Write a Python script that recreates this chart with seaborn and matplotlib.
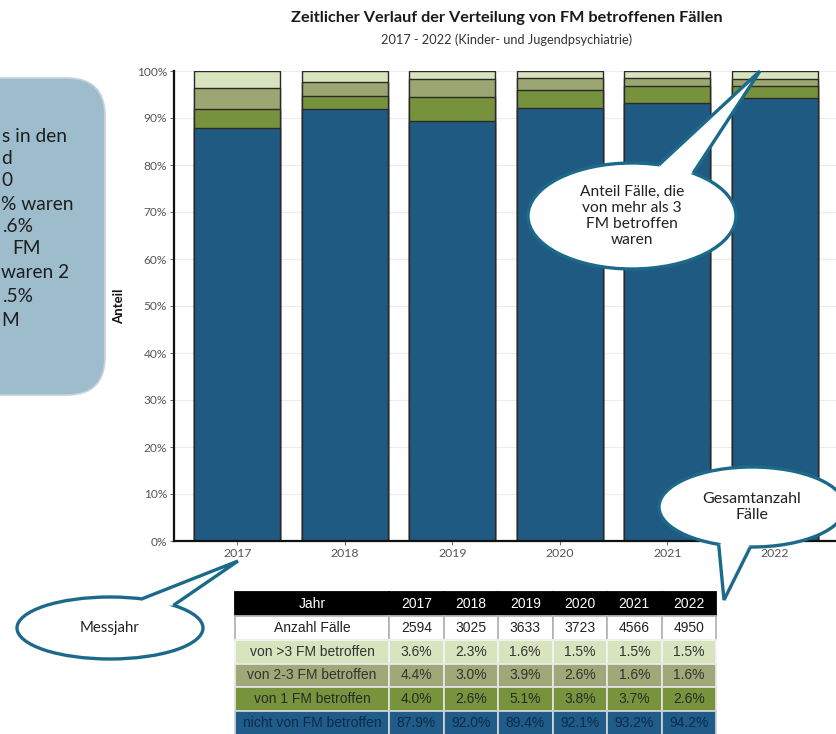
import numpy as np
import pandas as pd
import seaborn as sns
import matplotlib
matplotlib.use("Agg")
import matplotlib.pyplot as plt
from matplotlib.patches import Ellipse, Polygon, FancyBboxPatch

# ---------------- data ----------------
years = ["2017", "2018", "2019", "2020", "2021", "2022"]
n_cases = [2594, 3025, 3633, 3723, 4566, 4950]
p_gt3 = [3.6, 2.3, 1.6, 1.5, 1.5, 1.5]
p_2to3 = [4.4, 3.0, 3.9, 2.6, 1.6, 1.6]
p_1 = [4.0, 2.6, 5.1, 3.8, 3.7, 2.6]
p_none = [87.9, 92.0, 89.4, 92.1, 93.2, 94.2]
row_labels = ["von >3 FM betroffen", "von 2-3 FM betroffen",
              "von 1 FM betroffen", "nicht von FM betroffen"]
yticks = [0, 10, 20, 30, 40, 50, 60, 70, 80, 90, 100]

C_BLUE = "#1F5A82"
C_GREEN = "#76923C"
C_OLIVE = "#9CA672"
C_LIGHT = "#D7E4BD"
TEAL = "#1C6A8A"

sns.set_theme(style="whitegrid")
plt.rcParams["font.family"] = ["Lato", "DejaVu Sans"]

W, H = 837, 734
fig = plt.figure(figsize=(W / 100, H / 100), dpi=100)

# ---------------- main bar chart ----------------
ax = fig.add_axes([174 / W, (H - 541) / H, (W - 174) / W, 470 / H])
df = pd.DataFrame({"Jahr": years, "none": p_none, "one": p_1,
                   "two3": p_2to3, "gt3": p_gt3})
df["c1"] = df["none"]
df["c2"] = df["c1"] + df["one"]
df["c3"] = df["c2"] + df["two3"]
df["c4"] = df["c3"] + df["gt3"]

for col, colr in [("c4", C_LIGHT), ("c3", C_OLIVE), ("c2", C_GREEN), ("c1", C_BLUE)]:
    sns.barplot(data=df, x="Jahr", y=col, order=years, color=colr, saturation=1,
                edgecolor="#2a2a2a", linewidth=1.0, width=0.8, errorbar=None, ax=ax)

ax.set_xlim(-0.59, 5.58)
ax.set_ylim(0, 100)
ax.set_yticks(yticks)
ax.set_yticklabels([f"{v}%" for v in yticks])
ax.grid(axis="y", color="#ececec", linewidth=0.8)
ax.grid(axis="x", visible=False)
for s in ["top", "right"]:
    ax.spines[s].set_visible(False)
for s in ["left", "bottom"]:
    ax.spines[s].set_visible(True)
    ax.spines[s].set_color("#111111")
    ax.spines[s].set_linewidth(1.6)
ax.tick_params(axis="y", colors="#555555", labelsize=8.6, length=3, width=0.6, left=True, pad=2)
ax.tick_params(axis="x", colors="#555555", labelsize=8.8, length=3, width=0.6, bottom=True, pad=2)
ax.set_xlabel("")
ax.set_ylabel("Anteil", fontsize=9.5, fontweight="bold", color="#111111", labelpad=8)
ax.set_axisbelow(True)

fig.text(507 / W, 1 - 18 / H, "Zeitlicher Verlauf der Verteilung von FM betroffenen Fällen",
         ha="center", va="center", fontsize=11.7, fontweight="bold", color="#1a1a1a")
fig.text(507 / W, 1 - 40 / H, "2017 - 2022 (Kinder- und Jugendpsychiatrie)",
         ha="center", va="center", fontsize=9.2, color="#333333")

# ---------------- table ----------------
tax = fig.add_axes([235 / W, -1 / H, 481 / W, 143 / H])
tax.axis("off")
cell_text = [["Jahr"] + years,
             ["Anzahl Fälle"] + [str(v) for v in n_cases],
             [row_labels[0]] + [f"{v:.1f}%" for v in p_gt3],
             [row_labels[1]] + [f"{v:.1f}%" for v in p_2to3],
             [row_labels[2]] + [f"{v:.1f}%" for v in p_1],
             [row_labels[3]] + [f"{v:.1f}%" for v in p_none]]
row_fill = ["#000000", "#FFFFFF", "#D8E4BE", "#A0A878", "#77933C", "#1F5C8A"]
row_txt = ["#FFFFFF", "#222222", "#333333", "#333333", "#2a2a2a", "#0e2b44"]
row_edge = ["#000000", "#b5b5b5", "#f4f4f4", "#e8e8e8", "#e0e0e0", "#d0d0d0"]
colw = [154 / 481] + [54.5 / 481] * 6
tbl = tax.table(cellText=cell_text, cellLoc="center", colWidths=colw,
                bbox=[0, 0, 1, 1])
tbl.auto_set_font_size(False)
for (r, c), cell in tbl.get_celld().items():
    cell.set_facecolor(row_fill[r])
    cell.set_edgecolor(row_edge[r])
    cell.set_linewidth(1.3)
    cell.get_text().set_color(row_txt[r])
    cell.get_text().set_fontfamily(["Liberation Sans", "DejaVu Sans"])
    cell.get_text().set_fontsize(10)

# ---------------- overlay: side box and callouts ----------------
ov = fig.add_axes([0, 0, 1, 1], facecolor="none")
ov.set_xlim(0, W)
ov.set_ylim(H, 0)
ov.axis("off")

box = FancyBboxPatch((-60, 78), 165, 317, boxstyle="round,pad=0,rounding_size=38",
                     fc="#9DBDCC", ec="#c4d3da", lw=1.2, zorder=1)
ov.add_patch(box)
frags = [("s in den", 2, 136), ("d", 1, 158), ("0", 1, 181), ("% waren", 1, 205),
         (".6%", 3, 227), ("FM", 12, 249), ("waren 2", 1, 272), (".5%", 3, 296),
         ("M", 1, 320)]
for t, x, y in frags:
    ov.text(x, y, t, ha="left", va="center", fontsize=13.8, color="#1e1e1e", zorder=2)


def callout(cx, cy, w, h, a1, a2, tip, text, fs):
    e = Ellipse((cx, cy), w, h, fc="white", ec=TEAL, lw=2.4, zorder=3)
    ov.add_patch(e)
    b1 = (cx + w / 2 * np.cos(np.radians(a1)), cy + h / 2 * np.sin(np.radians(a1)))
    b2 = (cx + w / 2 * np.cos(np.radians(a2)), cy + h / 2 * np.sin(np.radians(a2)))
    mx, my = (b1[0] + b2[0]) / 2, (b1[1] + b2[1]) / 2
    inner = (mx + 0.25 * (cx - mx), my + 0.25 * (cy - my))
    ov.add_patch(Polygon([b1, tip, b2, inner], closed=True, fc="white", ec="none", zorder=4))
    ov.plot([b1[0], tip[0], b2[0]], [b1[1], tip[1], b2[1]], color=TEAL, lw=2.4,
            zorder=5, solid_joinstyle="miter", solid_capstyle="butt")
    ov.text(cx, cy, text, ha="center", va="center", fontsize=fs, color="#222222",
            zorder=6, linespacing=1.2)


callout(632, 216, 208, 106, -75, -54, (760, 71),
        "Anteil Fälle, die\nvon mehr als 3\nFM betroffen\nwaren", 11.2)
callout(752, 507, 186, 80, 111, 91, (724, 600), "Gesamtanzahl\nFälle", 11.5)
callout(110, 628, 186, 62, -70, -47, (238, 561), "Messjahr", 10.8)

fig.savefig("out.png", dpi=100)
